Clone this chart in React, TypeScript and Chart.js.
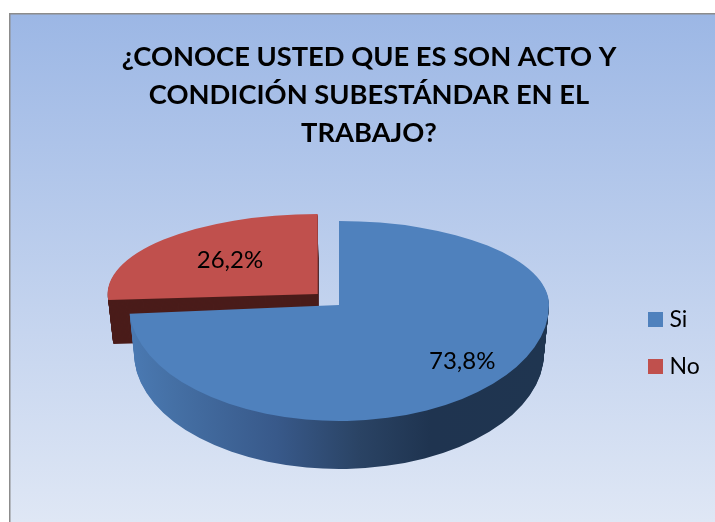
import React, { useEffect, useRef } from "react";
import { Chart, registerables } from "chart.js";

Chart.register(...registerables);

const categories = ["Si", "No"];
const values = [73.8, 26.2];
const titleLines = [
  "¿CONOCE USTED QUE ES SON ACTO Y",
  "CONDICIÓN SUBESTÁNDAR EN EL",
  "TRABAJO?",
];
const topColors = ["#4F81BD", "#C0504D"];

const FONT = "Lato, Carlito, 'Open Sans', sans-serif";
const PIE_CX = 339;
const PIE_CY = 305;
const K_UP = 84 / 210;
const K_UP_RED = 80 / 210;
const K_DOWN = 116 / 210;
const RED_SHIFT = -3.5;
const DEPTHS = [48, 44];
const LEGEND_PAD = 24;
const LABEL_POS = [
  { f: 0.8, dy: -7 },
  { f: 0.57, dy: -4 },
];

function drawArc(
  ctx: any,
  arc: any,
  dy: number,
  fill: any,
  width: number,
  height: number,
  kUp: number,
  shift: number
) {
  const depth = dy / 48;
  const sx = 1 - 0.024 * depth;
  const clone = Object.create(arc);
  clone.options = { ...arc.options, backgroundColor: fill };
  const yLine = PIE_CY + dy;
  [
    [0, yLine, kUp],
    [yLine, height - yLine, K_DOWN],
  ].forEach(([y, h, k]) => {
    ctx.save();
    ctx.beginPath();
    ctx.rect(0, y, width, h);
    ctx.clip();
    ctx.translate(PIE_CX, yLine + shift);
    ctx.scale(sx, k);
    ctx.translate(-arc.x, -arc.y);
    arc.draw.call(clone, ctx);
    ctx.restore();
  });
}

const pie3d = {
  id: "pie3d",
  beforeDraw(chart: any) {
    const { ctx, width, height } = chart;
    ctx.save();
    ctx.fillStyle = "#ffffff";
    ctx.fillRect(0, 0, width, height);
    const g = ctx.createLinearGradient(0, 14, 0, height);
    g.addColorStop(0, "#9cb7e5");
    g.addColorStop(1, "#dfe7f5");
    ctx.fillStyle = g;
    ctx.fillRect(10, 14, width - 10, height - 14);
    ctx.fillStyle = "#8c8c8c";
    ctx.fillRect(9, 13, width - 9, 1.5);
    ctx.fillRect(9, 13, 1.5, height - 13);
    ctx.restore();
  },
  afterLayout(chart: any) {
    const lg = chart.legend;
    if (!lg) return;
    const dx = 648 - (lg.left + LEGEND_PAD);
    lg.left += dx;
    lg.right += dx;
    lg.top += 82;
    lg.bottom += 82;
  },
  beforeDatasetsDraw(chart: any) {
    const { ctx, width, height } = chart;
    const arcs = chart.getDatasetMeta(0).data;
    const blue = arcs[0];
    const red = arcs[1];

    // Widen the legend keys: the library ties the key-to-text gap to the font size.
    const lg = chart.legend;
    ctx.save();
    lg.legendItems.forEach((item: any, i: number) => {
      const hit = lg.legendHitBoxes[i];
      ctx.fillStyle = item.fillStyle;
      ctx.fillRect(hit.left + 10, hit.top + 4, 5, 15);
    });
    ctx.restore();

    for (let d = DEPTHS[1]; d >= 1; d--)
      drawArc(ctx, red, d, "#4a1c1a", width, height, K_UP_RED, RED_SHIFT);
    drawArc(ctx, red, 0, red.options.backgroundColor, width, height, K_UP_RED, RED_SHIFT);

    const wall = ctx.createLinearGradient(blue.x - 210, 0, blue.x + 210, 0);
    wall.addColorStop(0, "#4a79b2");
    wall.addColorStop(0.1, "#4570a5");
    wall.addColorStop(0.35, "#38598a");
    wall.addColorStop(0.55, "#2a4364");
    wall.addColorStop(0.72, "#1f3450");
    wall.addColorStop(1, "#1f3550");
    for (let d = DEPTHS[0]; d >= 1; d--) drawArc(ctx, blue, d, wall, width, height, K_UP, 0);
    drawArc(ctx, blue, 0, blue.options.backgroundColor, width, height, K_UP, 0);

    ctx.save();
    ctx.fillStyle = "#000000";
    ctx.font = `24px ${FONT}`;
    ctx.textAlign = "center";
    ctx.textBaseline = "middle";
    arcs.forEach((a: any, i: number) => {
      const mid = (a.startAngle + a.endAngle) / 2;
      const off = (a.options.offset || 0) / 4;
      const r = 210 * LABEL_POS[i].f + off;
      const ux = Math.cos(mid);
      const uy = Math.sin(mid);
      const k = uy < 0 ? K_UP : K_DOWN;
      const text = values[i].toFixed(1).replace(".", ",") + "%";
      ctx.fillText(text, PIE_CX + ux * r, PIE_CY + uy * r * k + LABEL_POS[i].dy);
    });
    ctx.restore();
    return false;
  },
};

export default function App() {
  const ref = useRef<HTMLCanvasElement>(null);
  useEffect(() => {
    if (!ref.current) return;
    const chart = new Chart(ref.current, {
      type: "pie",
      data: {
        labels: categories,
        datasets: [
          {
            data: values,
            backgroundColor: topColors,
            borderWidth: 0,
            radius: 210,
            offset: [0, 116],
          },
        ],
      },
      options: {
        responsive: false,
        animation: false,
        layout: { padding: { left: 23, right: 0, top: 0, bottom: 0 } },
        plugins: {
          tooltip: { enabled: false },
          title: {
            display: true,
            text: titleLines,
            color: "#000000",
            font: { family: FONT, size: 27.3, weight: "bold", lineHeight: 1.39 },
            padding: { top: 38, bottom: 10 },
          },
          legend: {
            position: "right",
            labels: {
              color: "#000000",
              boxWidth: 10,
              boxHeight: 15,
              padding: LEGEND_PAD,
              font: { family: FONT, size: 23 },
            },
          },
        },
      },
      plugins: [pie3d],
    } as any);
    return () => chart.destroy();
  }, []);
  return (
    <div style={{ position: "fixed", left: 0, top: 0, width: 715, height: 522 }}>
      <canvas ref={ref} width={715} height={522} style={{ display: "block" }} />
    </div>
  );
}
